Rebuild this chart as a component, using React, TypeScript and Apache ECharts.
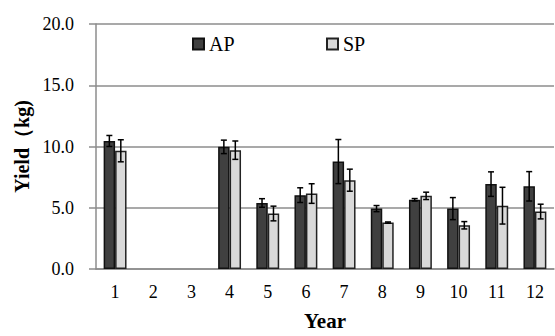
import React, { useEffect, useRef } from "react";
import * as echarts from "echarts";

const years = ["1", "2", "3", "4", "5", "6", "7", "8", "9", "10", "11", "12"];
const apValues: (number | null)[] = [10.45, null, null, 9.97, 5.39, 6.03, 8.77, 4.93, 5.65, 4.93, 6.93, 6.75];
const apErrors: (number | null)[] = [0.45, null, null, 0.55, 0.35, 0.6, 1.8, 0.25, 0.1, 0.9, 1.0, 1.2];
const spValues: (number | null)[] = [9.65, null, null, 9.7, 4.53, 6.16, 7.25, 3.79, 5.97, 3.57, 5.17, 4.69];
const spErrors: (number | null)[] = [0.9, null, null, 0.75, 0.6, 0.8, 0.9, 0.05, 0.3, 0.3, 1.5, 0.6];
const yTicks = ["0.0", "5.0", "10.0", "15.0", "20.0"];

const FONT = "Liberation Serif";

function errData(vals: (number | null)[], errs: (number | null)[]) {
  const out: any[] = [];
  vals.forEach((v, i) => {
    if (v != null && errs[i] != null) out.push([i, v - (errs[i] as number), v + (errs[i] as number)]);
  });
  return out;
}

function makeRender(sign: number) {
  return (params: any, api: any) => {
    const idx = api.value(0);
    const lo = api.coord([idx, api.value(1)]);
    const hi = api.coord([idx, api.value(2)]);
    const band = api.size([1, 0])[0];
    const x = lo[0] + sign * band * 0.15;
    const cap = 3;
    const style = { stroke: "#000", lineWidth: 1.5, fill: "none" };
    return {
      type: "group",
      children: [
        { type: "line", shape: { x1: x, y1: lo[1], x2: x, y2: hi[1] }, style },
        { type: "line", shape: { x1: x - cap, y1: lo[1], x2: x + cap, y2: lo[1] }, style },
        { type: "line", shape: { x1: x - cap, y1: hi[1], x2: x + cap, y2: hi[1] }, style },
      ],
    };
  };
}

export default function App() {
  const ref = useRef<HTMLDivElement>(null);
  useEffect(() => {
    const chart = echarts.init(ref.current!, undefined, { renderer: "svg" });
    chart.setOption({
      animation: false,
      backgroundColor: "#fff",
      textStyle: { fontFamily: FONT },
      legend: [
        {
          data: ["AP"],
          left: 187,
          top: 29,
          itemWidth: 11,
          itemHeight: 11,
          icon: "rect",
          textStyle: { fontFamily: FONT, fontSize: 20, color: "#000" },
        },
        {
          data: ["SP"],
          left: 321,
          top: 29,
          itemWidth: 11,
          itemHeight: 11,
          icon: "rect",
          textStyle: { fontFamily: FONT, fontSize: 20, color: "#000" },
        },
      ],
      grid: { left: 96, right: 1, top: 24, bottom: 62, containLabel: false },
      xAxis: {
        type: "category",
        data: years,
        name: "Year",
        nameLocation: "middle",
        nameGap: 41,
        nameTextStyle: { fontFamily: FONT, fontSize: 21, fontWeight: "bold", color: "#000" },
        axisLine: { lineStyle: { color: "#8c8c8c", width: 1.5 } },
        axisTick: { show: false },
        axisLabel: { fontFamily: FONT, fontSize: 18, color: "#000", margin: 14 },
      },
      yAxis: {
        type: "value",
        min: 0,
        max: 20,
        interval: 5,
        name: "Yield（kg)",
        nameLocation: "middle",
        nameGap: 63,
        nameTextStyle: { fontFamily: FONT, fontSize: 20, fontWeight: "bold", color: "#000" },
        axisLine: { show: true, lineStyle: { color: "#8c8c8c", width: 1.5 } },
        axisTick: { show: true, length: 7, lineStyle: { color: "#8c8c8c", width: 1.5 } },
        splitLine: { lineStyle: { color: "#8c8c8c", width: 1.5 } },
        axisLabel: {
          fontFamily: FONT,
          fontSize: 18,
          color: "#000",
          margin: 22,
          formatter: (v: number) => yTicks[Math.round(v / 5)] ?? v.toFixed(1),
        },
      },
      series: [
        {
          name: "AP",
          type: "bar",
          data: apValues.map((v) => (v == null ? "-" : v)),
          barGap: "0%",
          barCategoryGap: "40%",
          itemStyle: { color: "#404040", borderColor: "#111", borderWidth: 1.5 },
        },
        {
          name: "SP",
          type: "bar",
          data: spValues.map((v) => (v == null ? "-" : v)),
          barGap: "0%",
          barCategoryGap: "40%",
          itemStyle: { color: "#d9d9d9", borderColor: "#222", borderWidth: 1.5 },
        },
        {
          type: "custom",
          renderItem: makeRender(-1),
          data: errData(apValues, apErrors),
          encode: { x: 0, y: [1, 2] },
          z: 10,
          silent: true,
        },
        {
          type: "custom",
          renderItem: makeRender(1),
          data: errData(spValues, spErrors),
          encode: { x: 0, y: [1, 2] },
          z: 10,
          silent: true,
        },
      ],
    });
    return () => chart.dispose();
  }, []);
  return (
    <div
      ref={ref}
      style={{ position: "fixed", left: 0, top: 0, width: 555, height: 336, background: "#fff" }}
    />
  );
}
